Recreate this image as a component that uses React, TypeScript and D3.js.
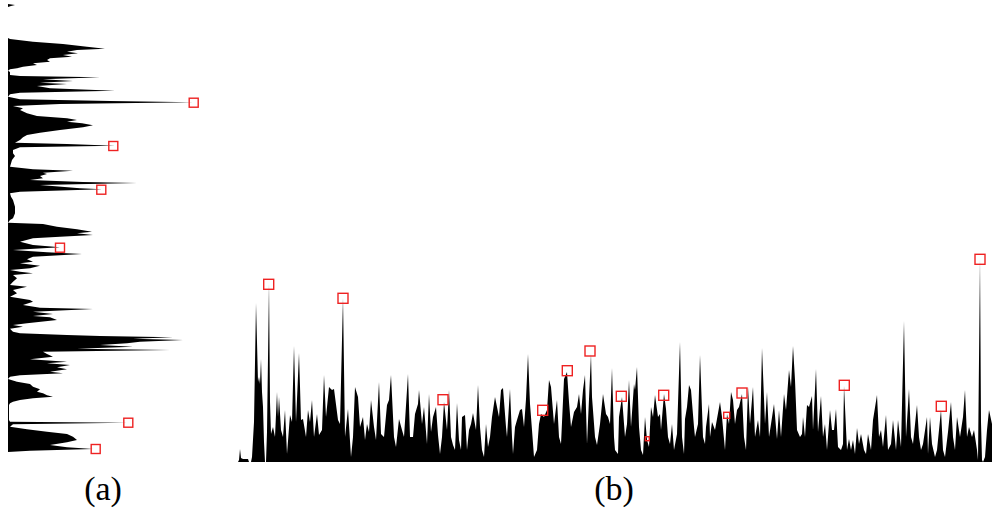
import React from "react";
import * as d3 from "d3";

// Panel (b): column profile, [column index, count]
const bProfile: [number, number][] = [
  [0,0],[1,2],[2,13],[3,4],[5,3],[10,3],[11,0],[13,0],[14,5],[16,40],[18,159],[19,120],[20,80],[21,85],[22,78],[23,103],[24,70],[25,55],[26,20],[27,0],[28,0],[29,30],[31,178],[32,60],[33,28],[35,35],[37,25],[39,70],[40,45],[41,65],[43,32],[45,25],[47,52],[49,8],[52,47],[54,40],[56,116],[58,40],[61,109],[63,42],[65,43],[68,25],[70,52],[72,40],[74,62],[76,25],[79,48],[81,27],[84,32],[86,87],[88,45],[91,75],[94,72],[96,73],[100,42],[102,38],[105,164],[107,25],[110,53],[113,5],[115,25],[117,75],[120,65],[122,35],[125,45],[127,22],[129,38],[131,30],[133,62],[136,35],[138,22],[141,80],[143,28],[146,25],[149,57],[151,62],[153,87],[156,25],[158,15],[161,43],[164,32],[166,25],[170,88],[172,25],[175,25],[177,48],[180,58],[181,72],[184,38],[186,55],
  [189,18],[191,68],[193,30],[195,45],[198,55],[200,27],[202,8],[204,25],[206,60],[209,32],[211,72],[213,25],[215,17],[217,12],[219,59],[221,22],[223,12],[224,45],[227,47],[229,12],[231,32],[233,38],[235,49],[238,32],[240,77],[242,35],[244,12],[246,5],[248,38],[250,15],[252,25],[254,45],[257,65],[259,55],[261,45],[263,72],[265,74],[268,35],[269,25],[272,73],[274,25],[275,8],[277,35],[279,42],[282,52],[284,53],[286,35],[288,63],[290,108],[292,58],[294,32],[296,5],[299,12],[301,38],[303,48],[306,45],[309,52],[311,82],[313,75],[316,38],[319,62],[321,25],[323,18],[326,83],[329,90],[331,60],[333,35],[336,50],[339,55],[341,68],[343,48],[345,72],[347,87],[349,18],[353,108],[354,65],[357,25],[359,17],[362,38],[365,68],[368,48],[370,45],[372,38],[374,94],
  [376,25],[377,12],[380,8],[381,45],[384,65],[387,25],[389,38],[391,82],[393,35],[396,78],[397,72],[399,95],[401,35],[403,12],[405,7],[407,45],[409,22],[411,15],[413,55],[415,45],[417,67],[420,45],[422,48],[423,32],[426,68],[428,53],[430,25],[432,18],[434,38],[436,12],[439,28],[442,120],[444,25],[446,8],[447,43],[449,55],[451,77],[453,72],[456,35],[457,25],[460,38],[462,107],[465,25],[467,18],[468,35],[471,58],[472,25],[474,40],[477,32],[482,60],[484,45],[487,12],[489,48],[491,38],[493,70],[495,62],[497,38],[499,52],[501,55],[504,68],[506,25],[508,12],[510,75],[512,38],[515,75],[517,25],[520,42],[522,25],[524,114],[527,38],[529,70],[531,25],[533,38],[536,58],[539,23],[541,52],[543,25],[546,68],[548,52],[551,92],[553,75],[555,116],[557,82],[559,32],[562,25],[564,28],
  [565,45],[567,25],[569,57],[571,55],[574,66],[575,32],[578,93],[580,30],[583,66],[585,25],[587,38],[589,12],[592,52],[594,32],[596,32],[598,53],[600,15],[603,12],[605,18],[606,76],[609,12],[611,23],[613,12],[615,22],[617,8],[619,34],[621,18],[623,28],[626,12],[628,8],[630,28],[633,12],[635,42],[639,67],[641,25],[643,32],[645,15],[648,47],[650,12],[653,18],[655,42],[658,12],[660,42],[663,15],[666,141],[668,25],[671,73],[673,25],[675,18],[679,57],[681,25],[683,12],[685,18],[689,45],[690,8],[692,45],[694,18],[697,5],[699,12],[701,32],[703,52],[705,12],[707,5],[710,30],[713,60],[715,25],[717,12],[719,45],[722,25],[725,45],[727,72],[729,25],[731,35],[734,25],[736,32],[739,12],[740,2],[742,203],[743,40],[744,2],[745,0],[747,5],[749,32],[751,52],[754,38]
];

// Panel (b): detected peaks [column, count, marker size]
const bPeaks: [number, number, number][] = [
  [30.7,177.7,10],[105,163.7,10],[205,62.3,10],[304.7,51.7,10],[329.3,91.3,10],[352,111,10],[383.3,65.7,10],[409.3,23.3,4],[425.7,66.7,10],[488.7,46.7,6],[504,69,10],[606.3,76.7,10],[703.3,55.7,10],[742,202.7,10]
];

// Panel (a): row profile, [row index, count]
const aProfile: [number, number][] = [
  [4,0],[5,7],[6,3],[7,0],[38,0],[39,2],[41.7,25],[44,55],[46.7,79],[48.7,97],[50,69],[51.7,59],[53.3,70],[55,55],[56.7,64],[58.3,42],[60,39],[61.7,42],[63.3,25],[65,29],[66.7,15],[68.3,9],[69.3,2],[70.7,0],[72,2],[75,2],[76,12],[77.3,92],[79.3,35],[81,65],[82.7,32],[84,59],[86,29],[88.3,42],[90.7,107],[92.7,12],[94.3,2],[96.7,0],[99.3,12],[101,102],[102.3,185],[104,52],[106,5],[108.3,15],[110,12],[113.3,19],[116,29],[118.3,59],[120,69],[121.7,59],[123.3,74],[125.3,85],[127.3,75],[130,52],[132.7,32],[135,19],[137.3,15],[140,12],[142.7,7],[144,59],[145.7,107],[147.3,12],[150,5],[153.3,5],[156,7],[160,4],[166.7,2],[169.3,25],[170.7,65],[172.7,35],[174,39],[176,32],[178.3,35],[180,22],[182,75],[183,129],[185,32],[188.3,72],[189.3,94],[191.7,12],[193.3,2],[196.7,3],[200,5],[206.7,7],[213.3,7],[218.3,5],[220,2],[222.7,0],[224,35],[226.7,49],[229.3,69],[231.7,84],[233.3,69],[235,85],[236.7,52],[238.3,25],[241.7,12],[245,25],[247.3,52],[250,5],[252.3,39],[254,74],[256.7,25],[259.3,19],[261.7,25],[263.3,12],[265.7,32],[268.3,22],[270,2],[271.7,12],[273.3,25],[275,5],[278.3,9],[281.7,5],[285,2],[286.7,19],[290,5],[293.3,9],[296.7,2],[300,22],[301.7,25],[305,15],[307.7,32],[309,85],[311.7,25],[314,45],[316,25],[317.3,42],[320,49],[323.3,19],[325,5],[326.7,15],[328.7,2],[331.7,5],[333.3,12],[335,59],[336,92],[337.3,165],[338.7,125],[340,175],[341.7,132],[343.3,119],[345,92],[346.7,125],[348.7,69],[350,162],[351.7,35],[354,39],[356.7,45],[359.3,22],[361.7,59],[363.3,39],[365,62],[367.3,49],[369.3,59],[371.7,42],[373.3,55],[375.3,12],[376.7,2],[379,0],[381.7,9],[384,22],[386.7,25],[389.3,32],[391.7,29],[393.3,35],[395.3,39],[396.7,45],[398.3,25],[400,12],[401.7,5],[403.3,2],[405,1],[420,1],[421.7,2],[422.7,119],[424.3,5],[426.7,2],[429.3,19],[431.7,39],[434,59],[436.7,65],[440,69],[442.3,59],[445,42],[447.3,59],[449,85],[450.7,22],[452,0]
];

// Panel (a): detected peaks [row, count, marker size]
const aPeaks: [number, number, number][] = [
  [102.7,185.7,9],[146,105.3,9],[189.7,93.3,9],[247.7,52,9],[422.7,120.3,9],[449,87.7,9]
];

const panelLabels = ["(a)", "(b)"];

export default function App() {
  const W = 992, H = 508;

  // Panel (b) scales
  const bx = d3.scaleLinear().domain([0, 754]).range([238, 992]);
  const by = d3.scaleLinear().domain([0, 210]).range([462, 252]);
  const bArea = d3.area<[number, number]>()
    .x(d => bx(d[0]))
    .y0(by(0))
    .y1(d => by(d[1]))
    .curve(d3.curveLinear);

  // Panel (a) scales
  const ay = d3.scaleLinear().domain([0, 460]).range([0, 460]);
  const ax = d3.scaleLinear().domain([0, 200]).range([8, 208]);
  const aArea = d3.area<[number, number]>()
    .y(d => ay(d[0]))
    .x0(ax(0))
    .x1(d => ax(d[1]))
    .curve(d3.curveLinear);

  const red = "#ee2222";

  return (
    <svg width={W} height={H} style={{ position: "absolute", left: 0, top: 0, background: "#fff" }}>
      <path d={aArea(aProfile) || ""} fill="#000" />
      <path d={bArea(bProfile) || ""} fill="#000" />
      {aPeaks.map(([r, v, s], i) => (
        <rect key={"a" + i} x={ax(v) - s / 2} y={ay(r) - s / 2} width={s} height={s}
          fill="none" stroke={red} strokeWidth={1.4} />
      ))}
      {bPeaks.map(([c, v, s], i) => (
        <rect key={"b" + i} x={bx(c) - s / 2} y={by(v) - s / 2} width={s} height={s}
          fill="none" stroke={red} strokeWidth={1.4} />
      ))}
      <text x={103} y={500} textAnchor="middle" fontFamily="'Liberation Serif', serif" fontSize={34}>{panelLabels[0]}</text>
      <text x={614} y={500} textAnchor="middle" fontFamily="'Liberation Serif', serif" fontSize={34}>{panelLabels[1]}</text>
    </svg>
  );
}
